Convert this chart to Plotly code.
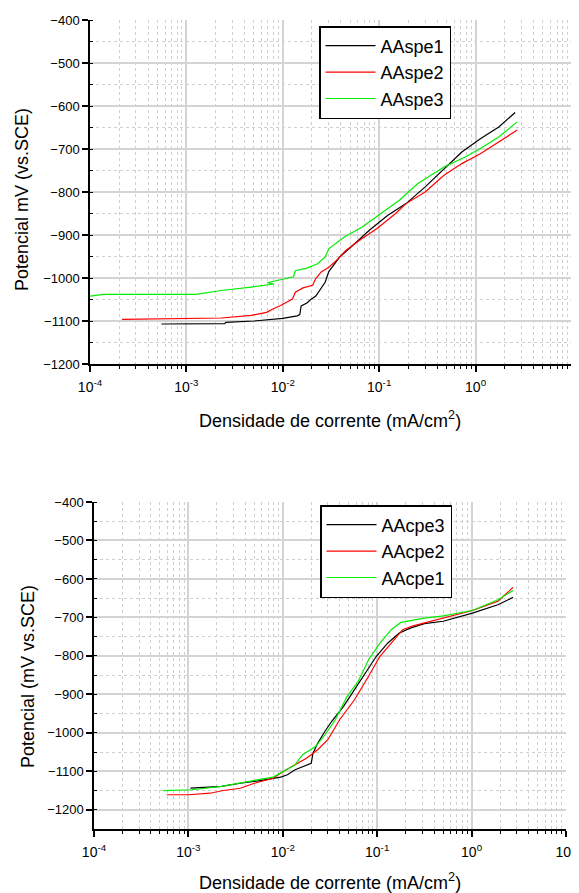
import plotly.graph_objects as go

# ---------------- data (current density mA/cm2, potential mV vs SCE) ----------------
spe1_i = [5.5e-4, 2.5e-3, 2.57e-3, 5.0e-3, 1.0e-2, 1.41e-2, 1.5e-2, 1.55e-2, 1.78e-2, 1.95e-2,
          2.2e-2, 2.5e-2, 2.75e-2, 3.0e-2, 3.55e-2, 3.9e-2, 5.1e-2, 7.9e-2, 0.123, 0.19,
          0.30, 0.47, 0.72, 1.12, 1.74, 2.57]
spe1_e = [-1107, -1106, -1103, -1100, -1094, -1088, -1085, -1065, -1058, -1050,
          -1042, -1025, -1010, -985, -962, -951, -928, -889, -854, -827,
          -788, -746, -707, -676, -649, -615]

spe2_i = [2.15e-4, 2.3e-3, 4.7e-3, 6.8e-3, 7.9e-3, 9.5e-3, 1.26e-2, 1.35e-2, 1.62e-2, 2.04e-2,
          2.19e-2, 2.5e-2, 3.0e-2, 3.6e-2, 4.5e-2, 6.2e-2, 9.5e-2, 0.148, 0.19, 0.30,
          0.47, 0.72, 1.12, 1.74, 2.7]
spe2_e = [-1096, -1093, -1087, -1080, -1072, -1064, -1049, -1033, -1023, -1017,
          -1002, -986, -975, -959, -936, -913, -885, -850, -827, -800,
          -761, -734, -711, -684, -656]

spe3_i = [1.0e-4, 1.38e-4, 1.26e-3, 2.3e-3, 4.7e-3, 8.1e-3, 6.9e-3, 1.0e-2, 1.29e-2, 1.35e-2,
          1.78e-2, 2.3e-2, 2.75e-2, 3.0e-2, 4.3e-2, 6.6e-2, 0.105, 0.162, 0.25, 0.47,
          0.79, 1.12, 1.74, 2.7]
spe3_e = [-1042, -1038, -1038, -1029, -1021, -1014, -1011, -1003, -997, -983,
          -977, -967, -951, -932, -905, -882, -850, -819, -781, -742,
          -718, -699, -672, -637]

cpe3_i = [1.05e-3, 2.24e-3, 3.55e-3, 5.5e-3, 9.5e-3, 1.12e-2, 1.35e-2, 1.78e-2, 2.0e-2, 2.09e-2,
          2.34e-2, 2.8e-2, 3.3e-2, 4.4e-2, 5.75e-2, 7.6e-2, 9.8e-2, 0.129, 0.17, 0.224,
          0.316, 0.50, 1.02, 1.9, 2.75]
cpe3_e = [-1144, -1139, -1131, -1125, -1115, -1109, -1096, -1085, -1079, -1053,
          -1027, -996, -970, -931, -888, -845, -801, -767, -741, -728,
          -716, -710, -689, -667, -648]

cpe2_i = [5.9e-4, 1.0e-3, 1.7e-3, 2.34e-3, 3.55e-3, 5.0e-3, 7.9e-3, 1.02e-2, 1.35e-2, 1.78e-2,
          2.34e-2, 3.0e-2, 4.0e-2, 5.75e-2, 8.1e-2, 0.107, 0.141, 0.186, 0.24, 0.417,
          1.02, 1.9, 2.75]
cpe2_e = [-1161, -1161, -1157, -1150, -1144, -1131, -1118, -1100, -1083, -1066,
          -1044, -1018, -966, -914, -853, -801, -767, -732, -722, -706,
          -682, -658, -622]

cpe1_i = [5.4e-4, 1.1e-3, 2.24e-3, 4.6e-3, 7.9e-3, 1.02e-2, 1.35e-2, 1.62e-2, 1.95e-2, 2.24e-2,
          2.8e-2, 3.6e-2, 4.8e-2, 6.3e-2, 8.1e-2, 0.107, 0.141, 0.178, 0.316, 0.50,
          1.02, 1.9, 2.75]
cpe1_e = [-1150, -1148, -1139, -1126, -1115, -1100, -1083, -1057, -1044, -1035,
          -1005, -966, -905, -866, -810, -767, -732, -713, -702, -696,
          -682, -654, -630]

x_tickvals = [1e-4, 1e-3, 1e-2, 1e-1, 1e0, 1e1]
x_ticktext = ["10<sup>-4</sup>", "10<sup>-3</sup>", "10<sup>-2</sup>",
              "10<sup>-1</sup>", "10<sup>0</sup>", "10<sup>1</sup>"]
x_minorvals = [m * d for d in [1e-4, 1e-3, 1e-2, 1e-1, 1e0] for m in range(2, 10)]
y_tickvals = [-1200, -1100, -1000, -900, -800, -700, -600, -500, -400]

# ---------------- figure ----------------
FONT = "Liberation Sans, Arial, sans-serif"
BLACK, RED, GREEN = "#000000", "#ff0000", "#00ee00"

fig = go.Figure()
top = [("AAspe1", spe1_i, spe1_e, BLACK), ("AAspe2", spe2_i, spe2_e, RED),
       ("AAspe3", spe3_i, spe3_e, GREEN)]
bot = [("AAcpe3", cpe3_i, cpe3_e, BLACK), ("AAcpe2", cpe2_i, cpe2_e, RED),
       ("AAcpe1", cpe1_i, cpe1_e, GREEN)]
for name, xs, ys, c in top:
    fig.add_trace(go.Scatter(x=xs, y=ys, mode="lines", name=name, line=dict(color=c, width=1.2),
                             xaxis="x", yaxis="y", legend="legend"))
for name, xs, ys, c in bot:
    fig.add_trace(go.Scatter(x=xs, y=ys, mode="lines", name=name, line=dict(color=c, width=1.2),
                             xaxis="x2", yaxis="y2", legend="legend2"))

# the page body has an 8 px margin: the figure is sized and placed to compensate
OFF = 8
W, H = 579 - OFF, 893 - OFF


def px(x):
    return (x - OFF) / W


def py(y):
    return 1 - (y - OFF) / H


def xaxis(domain, anchor):
    return dict(type="log", range=[-4, 1], domain=domain, anchor=anchor, automargin=False,
                tickmode="array", tickvals=x_tickvals, ticktext=x_ticktext,
                ticks="outside", ticklen=6, tickwidth=1.5, tickcolor="black",
                showline=True, linecolor="black", linewidth=1.5,
                showgrid=True, gridcolor="#d4d4d4", gridwidth=1.5,
                minor=dict(tickmode="array", tickvals=x_minorvals, ticks="outside",
                           ticklen=3, tickwidth=1.2, tickcolor="black", showgrid=True,
                           gridcolor="#cfcfcf", gridwidth=1, griddash="dot"),
                tickfont=dict(family=FONT, size=14, color="black"),
                ticklabelstandoff=3, zeroline=False, mirror=False)


def yaxis(domain, anchor, rng):
    return dict(range=rng, domain=domain, anchor=anchor, automargin=False,
                tickmode="array", tickvals=y_tickvals,
                ticks="outside", ticklen=6, tickwidth=1.5, tickcolor="black",
                showline=True, linecolor="black", linewidth=1.5,
                showgrid=True, gridcolor="#d4d4d4", gridwidth=1.5,
                minor=dict(dtick=50, tick0=-400, ticks="inside", ticklen=3, tickwidth=1.2,
                           tickcolor="black", showgrid=True, gridcolor="#cfcfcf",
                           gridwidth=1, griddash="dot"),
                tickfont=dict(family=FONT, size=13, color="black"),
                zeroline=False, mirror=False)


def title_ann(text, x, y, angle=0):
    return dict(text=text, x=px(x), y=py(y), textangle=angle, xref="paper", yref="paper",
                showarrow=False, xanchor="center", yanchor="middle",
                font=dict(family=FONT, size=18, color="black"))


fig.update_layout(
    width=W, height=H, margin=dict(l=0, r=0, t=0, b=0, autoexpand=False),
    paper_bgcolor="white", plot_bgcolor="white", showlegend=True,
    xaxis=xaxis([px(90), px(572)], "y"),
    yaxis=yaxis([py(364), py(20)], "x", [-1200, -400]),
    xaxis2=xaxis([px(94), px(566)], "y2"),
    yaxis2=yaxis([py(829), py(502)], "x2", [-1250, -400]),
    legend=dict(x=px(319), y=py(26), xanchor="left", yanchor="top",
                bgcolor="white", bordercolor="black", borderwidth=1.5,
                font=dict(family=FONT, size=18, color="black"), itemwidth=50,
                tracegroupgap=0),
    legend2=dict(x=px(320), y=py(505), xanchor="left", yanchor="top",
                 bgcolor="white", bordercolor="black", borderwidth=1.5,
                 font=dict(family=FONT, size=18, color="black"), itemwidth=50,
                 tracegroupgap=0),
    annotations=[
        title_ann("Densidade de corrente (mA/cm<sup>2</sup>)", 330, 419),
        title_ann("Densidade de corrente (mA/cm<sup>2</sup>)", 330, 881),
        title_ann("Potencial mV (vs.SCE)", 22, 200, -90),
        title_ann("Potencial (mV vs.SCE)", 28, 677, -90),
    ],
)

fig.write_html("out.html")
